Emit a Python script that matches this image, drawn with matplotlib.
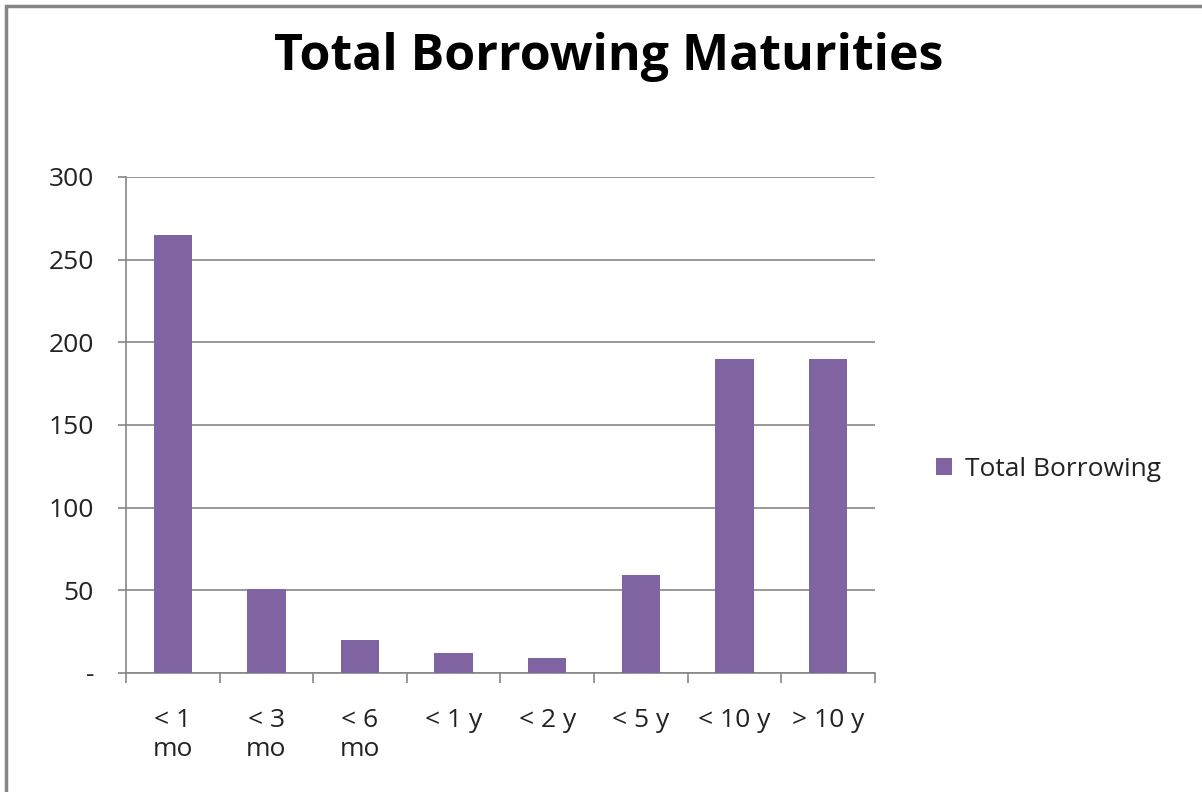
import numpy as np
import matplotlib
matplotlib.use('Agg')
import matplotlib.pyplot as plt
from matplotlib.patches import Rectangle

# 数据
categories = ['< 1\nmo', '< 3\nmo', '< 6\nmo', '< 1 y', '< 2 y', '< 5 y', '< 10 y', '> 10 y']
total_borrowing = [265, 51, 20, 12, 9, 59, 190, 190]
y_ticks = [0, 50, 100, 150, 200, 250, 300]
y_tick_labels = ['-', '50', '100', '150', '200', '250', '300']

plt.rcParams['font.family'] = ['Open Sans', 'DejaVu Sans']

fig = plt.figure(figsize=(12.02, 7.92), dpi=100)
ax = fig.add_axes([0.1048, 0.1503, 0.6231, 0.6263])

x = np.arange(len(categories))
ax.bar(x, total_borrowing, width=0.41, color='#8064A2', label='Total Borrowing', zorder=3)

ax.set_xlim(-0.5, len(categories) - 0.5)
ax.set_ylim(0, 300)
ax.set_yticks(y_ticks)
ax.set_yticklabels(y_tick_labels, fontsize=19, color='#222222')
ax.yaxis.grid(True, color='#868686', linewidth=1.2, zorder=0)

# x轴:类别标签居中,刻度线在类别之间
ax.set_xticks(x)
ax.set_xticklabels(categories, fontsize=19, linespacing=1.25, va='top', color='#222222')
ax.tick_params(axis='x', which='major', length=0, pad=25)
ax.set_xticks(np.arange(len(categories) + 1) - 0.5, minor=True)
ax.tick_params(axis='x', which='minor', length=7, width=1.2, color='#868686', direction='out')
ax.tick_params(axis='y', length=6, width=1.2, color='#868686', pad=17)

for s in ['top', 'right']:
    ax.spines[s].set_visible(False)
for s in ['left', 'bottom']:
    ax.spines[s].set_color('#868686')
    ax.spines[s].set_linewidth(1.2)

fig.text(0.506, 0.928, 'Total Borrowing Maturities', ha='center', va='center',
         fontsize=36, fontweight='bold')

leg = ax.legend(loc='center left', bbox_to_anchor=(1.05, 0.41), frameon=False, fontsize=19,
                handlelength=0.6, handleheight=0.6, handletextpad=0.5)
for t in leg.get_texts():
    t.set_color('#222222')

# 图表外框
fig.patches.append(Rectangle((6 / 1202, -0.05), 1.2, 1 - 6 / 792 + 0.05,
                             transform=fig.transFigure, fill=False,
                             edgecolor='#868686', linewidth=2.5))

fig.savefig('out.png', dpi=100)
